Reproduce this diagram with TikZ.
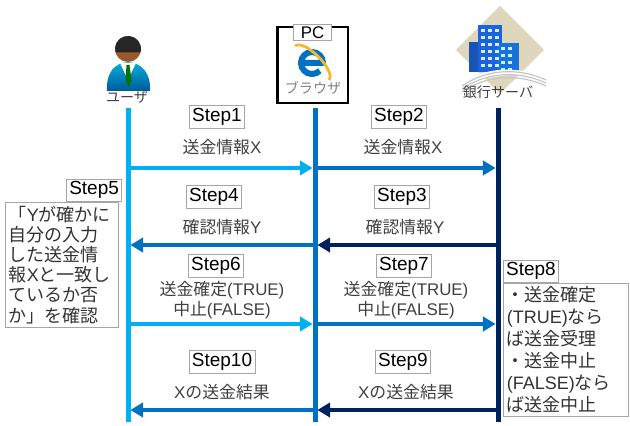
\documentclass[tikz,border=0pt]{standalone}
\usepackage{fontspec}
\setmainfont{Liberation Sans}
\newfontfamily\jpfont{Noto Sans CJK JP}
\usetikzlibrary{arrows.meta,positioning}

\definecolor{userblue}{HTML}{00B0F0}
\definecolor{pcblue}{HTML}{0070C0}
\definecolor{bankblue}{HTML}{002060}
\definecolor{skin}{HTML}{9A5A2C}
\definecolor{sand}{HTML}{DED7BC}
\definecolor{tower}{HTML}{1C62D8}
\definecolor{ring}{HTML}{F2B82E}

\newcommand{\ja}[1]{{\jpfont #1}}

\begin{document}
\begin{tikzpicture}[x=0.25mm, y=-0.25mm,
  stepbox/.style={draw=gray!70, fill=white, inner sep=2pt,
                  font=\fontsize{13.5}{15}\selectfont},
  msg/.style={text=black!75, align=center, font=\fontsize{12}{14.5}\selectfont},
  note/.style={draw=gray!70, fill=white, align=left, text=black!80,
               inner sep=2.5pt, anchor=north west},
  actor/.style={text=black!75, font=\fontsize{10}{12}\selectfont},
  life/.style={line width=1.25mm},
  arr/.style={line width=1mm, -{Triangle[length=3.2mm, width=3.6mm]}, shorten >=0.6mm},
]
\useasboundingbox (0,0) rectangle (630,426);

% user icon
\shade[top color=pcblue!55!cyan, bottom color=pcblue!80!black]
  (107,91) .. controls (106,72) and (115,63) .. (128,62)
  .. controls (141,63) and (151,72) .. (150,91) -- cycle;
\fill[white] (120,63) -- (136,63) -- (128,80) -- cycle;
\fill[green!45!black] (126.5,65) -- (129.5,65) -- (131.5,80) -- (128.5,87) -- (125.5,80) -- cycle;
\fill[skin] (128,49) circle (13);
\fill[black!85] (128,49) ++(165:13) arc[start angle=165, end angle=375, radius=13] -- cycle;
\node[actor] (user) at (127,97) {\ja{ユーザ}};

% browser icon
\node[draw, line width=0.6mm, minimum width=17.6mm, minimum height=19mm] (pc) at (312.5,65) {};
\node[draw=gray!70, fill=white, inner sep=1.2pt, minimum width=9.6mm,
      font=\fontsize{12}{13}\selectfont, anchor=north] (pclbl) at ([yshift=1pt]pc.north) {PC};
\coordinate (ie) at (312,63);
\draw[pcblue, line width=1.5mm] (ie) ++(-11,0) -- ++(22,0)
  arc[start angle=0, end angle=-315, radius=11];
\begin{scope}[shift={(ie)}, rotate=-45]
  \draw[ring, line width=0.7mm] (-24,0) arc[start angle=180, end angle=360, x radius=24, y radius=9];
\end{scope}
\node[actor, text=gray] (brw) at (313,88) {\ja{ブラウザ}};

% bank icon
\fill[sand] (500,6) -- (544,50) -- (500,94) -- (456,50) -- cycle;
\fill[tower!85!black] (469,42) rectangle (484,72);
\fill[tower] (478,25) rectangle (502,72);
\fill[tower!90!cyan] (497,43) rectangle (519,73);
\foreach \x in {481,488,495}
  \foreach \y in {29,36,...,65}
    \fill[white!80!cyan] (\x,\y) rectangle +(3.5,3.5);
\foreach \x in {501,508}
  \foreach \y in {47,54,...,68}
    \fill[white!80!cyan] (\x,\y) rectangle +(3.5,3.5);
\fill[white] (460,84) .. controls (485,66) and (520,66) .. (546,78)
  .. controls (520,72) and (485,74) .. (464,88) -- cycle;
\foreach \d in {0,3,6}
  \draw[gray!45, line width=0.3mm] (462,86+\d) .. controls (488,68+\d) and (520,68+\d) .. (546,80+\d);
\node[actor] (bank) at (498,92) {\ja{銀行サーバ}};

% lifelines
\coordinate (ut) at (128,108);
\coordinate (ue) at (128,422);
\coordinate (pt) at (315,108);
\coordinate (pe) at (315,422);
\coordinate (bt) at (498,108);
\coordinate (be) at (498,422);
\draw[life, userblue] (ut) -- (ue);
\draw[life, pcblue] (pt) -- (pe);
\draw[life, bankblue] (bt) -- (be);

\foreach \r/\y in {1/168,2/245,3/324,4/410}{
  \coordinate (u\r) at (128,\y);
  \coordinate (p\r) at (315,\y);
  \coordinate (b\r) at (498,\y);
}

\draw[arr, userblue] (u1) -- (p1);
\draw[arr, pcblue] (p1) -- (b1);
\draw[arr, pcblue] (p2) -- (u2);
\draw[arr, bankblue] (b2) -- (p2);
\draw[arr, userblue] (u3) -- (p3);
\draw[arr, pcblue] (p3) -- (b3);
\draw[arr, pcblue] (p4) -- (u4);
\draw[arr, bankblue] (b4) -- (p4);

% steps and messages
\node[stepbox] (s1) at (217,117) {Step1};
\node[msg] (m1) at (222,147) {\ja{送金情報}X};
\node[stepbox] (s2) at (399,117) {Step2};
\node[msg] (m2) at (403,147) {\ja{送金情報}X};
\node[stepbox] (s4) at (214,197) {Step4};
\node[msg] (m4) at (222,227) {\ja{確認情報}Y};
\node[stepbox] (s3) at (402,197) {Step3};
\node[msg] (m3) at (405,227) {\ja{確認情報}Y};
\node[stepbox] (s6) at (216,266) {Step6};
\node[msg] (m6) at (222,300) {\ja{送金確定}(TRUE)\\\ja{中止}(FALSE)};
\node[stepbox] (s7) at (404,266) {Step7};
\node[msg] (m7) at (406,300) {\ja{送金確定}(TRUE)\\\ja{中止}(FALSE)};
\node[stepbox] (s10) at (222,362) {Step10};
\node[msg] (m10) at (222,392) {X\ja{の送金結果}};
\node[stepbox] (s9) at (403,362) {Step9};
\node[msg] (m9) at (406,392) {X\ja{の送金結果}};

\node[note, text width=26.5mm, font=\fontsize{12.8}{14.4}\selectfont] (n5) at (5,202)
  {\ja{「}Y\ja{が確かに}\\\ja{自分の入力}\\\ja{した送金情}\\\ja{報}X\ja{と一致し}\\\ja{ているか否}\\\ja{か」を確認}};
\node[stepbox, anchor=south east] (s5) at (122,202) {Step5};

\node[note, text width=29.5mm, font=\fontsize{12.8}{15.6}\selectfont] (n8) at (503,283)
  {\ja{・送金確定}\\(TRUE)\ja{なら}\\\ja{ば送金受理}\\\ja{・送金中止}\\(FALSE)\ja{なら}\\\ja{ば送金中止}};
\node[stepbox, anchor=south west] (s8) at (503,283) {Step8};
\end{tikzpicture}
\end{document}
